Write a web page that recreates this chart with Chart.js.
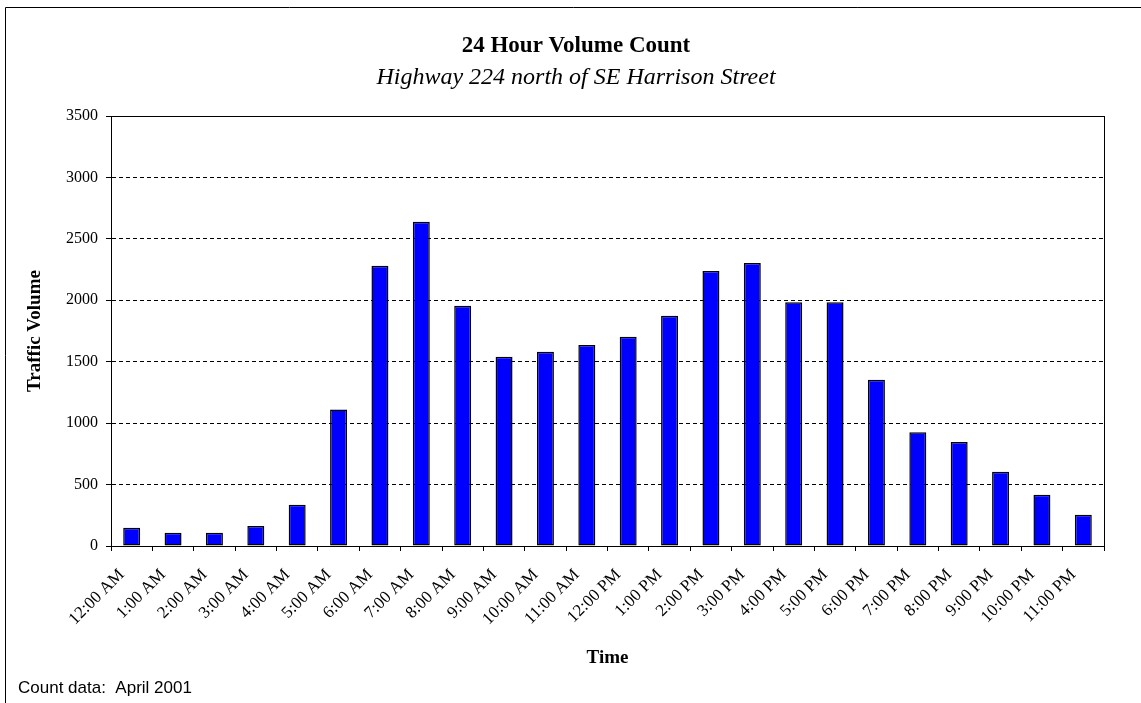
<!DOCTYPE html>
<html lang="en">
<head>
  <meta charset="UTF-8">
  <title>24 Hour Volume Count</title>
  <style>
    html, body {
      margin: 0;
      padding: 0;
      background: #fff;
    }
    #wrap {
      width: 1141px;
      height: 703px;
    }
  </style>
</head>
<body>
  <div id="wrap">
    <canvas id="chartCanvas" width="1141" height="703"></canvas>
  </div>

  <script src="https://cdn.jsdelivr.net/npm/chart.js"></script>
  <script>
    // Data
    const hours = ['12:00 AM', '1:00 AM', '2:00 AM', '3:00 AM', '4:00 AM', '5:00 AM',
      '6:00 AM', '7:00 AM', '8:00 AM', '9:00 AM', '10:00 AM', '11:00 AM',
      '12:00 PM', '1:00 PM', '2:00 PM', '3:00 PM', '4:00 PM', '5:00 PM',
      '6:00 PM', '7:00 PM', '8:00 PM', '9:00 PM', '10:00 PM', '11:00 PM'];
    const volumes = [149, 108, 108, 163, 336, 1112, 2282, 2640, 1956, 1541, 1582, 1636,
      1704, 1875, 2238, 2303, 1983, 1983, 1354, 925, 846, 605, 418, 255];
    const yTicks = [0, 500, 1000, 1500, 2000, 2500, 3000, 3500];

    const serif = "'Liberation Serif', 'Times New Roman', serif";
    const sans = "'Liberation Sans', Arial, sans-serif";

    // outer frame, plot frame and the footnote
    const decorations = {
      id: 'decorations',
      afterDraw(chart) {
        const ctx = chart.ctx;
        const a = chart.chartArea;
        ctx.save();
        ctx.strokeStyle = '#000';
        ctx.lineWidth = 1;
        ctx.setLineDash([]);
        // plot frame
        ctx.strokeRect(Math.round(a.left) + 0.5, Math.round(a.top) + 0.5,
          Math.round(a.right - a.left), Math.round(a.bottom - a.top));
        // outer chart border (runs off the right and bottom)
        ctx.beginPath();
        ctx.moveTo(5.5, 720);
        ctx.lineTo(5.5, 7.5);
        ctx.lineTo(1160, 7.5);
        ctx.stroke();
        // footnote
        ctx.fillStyle = '#000';
        ctx.font = '17px ' + sans;
        ctx.textAlign = 'left';
        ctx.textBaseline = 'alphabetic';
        ctx.fillText('Count data:  April 2001', 18, 693);
        ctx.restore();
      }
    };

    const ctx = document.getElementById('chartCanvas').getContext('2d');
    new Chart(ctx, {
      type: 'bar',
      data: {
        labels: hours,
        datasets: [{
          label: 'Traffic Volume',
          data: volumes,
          backgroundColor: '#0000ff',
          borderColor: '#000000',
          borderWidth: 1.5,
          borderSkipped: false,
          categoryPercentage: 1.0,
          barPercentage: 0.41
        }]
      },
      options: {
        responsive: false,
        animation: false,
        layout: {
          padding: { left: 48, right: 37, top: 32, bottom: 0 }
        },
        plugins: {
          legend: { display: false },
          tooltip: { enabled: false },
          title: {
            display: true,
            text: '24 Hour Volume Count',
            color: '#000',
            font: { family: serif, size: 23, weight: 'bold', lineHeight: 1.2 },
            padding: { top: 0, bottom: 0 }
          },
          subtitle: {
            display: true,
            text: 'Highway 224 north of SE Harrison Street',
            color: '#000',
            font: { family: serif, size: 24, style: 'italic', lineHeight: 1.2 },
            padding: { top: 4, bottom: 23.6 }
          }
        },
        scales: {
          x: {
            afterFit(scale) { scale.height = 157; },
            grid: {
              offset: true,
              drawOnChartArea: false,
              drawTicks: true,
              tickLength: 5,
              color: '#000'
            },
            border: { display: true, color: '#000', width: 1 },
            ticks: {
              autoSkip: false,
              minRotation: 45,
              maxRotation: 45,
              labelOffset: -10,
              padding: 14,
              color: '#000',
              font: { family: serif, size: 17 }
            },
            title: {
              display: true,
              text: 'Time',
              color: '#000',
              font: { family: serif, size: 19, weight: 'bold', lineHeight: 1.2 },
              padding: { top: 0, bottom: 34 }
            }
          },
          y: {
            min: 0,
            max: 3500,
            afterFit(scale) { scale.width = 63; },
            afterBuildTicks(scale) {
              scale.ticks = yTicks.map(v => ({ value: v }));
            },
            grid: {
              color: '#000',
              lineWidth: 1,
              drawTicks: true,
              tickLength: 5,
              tickColor: '#000'
            },
            border: { display: true, color: '#000', width: 1, dash: [4, 3] },
            ticks: {
              padding: 8,
              color: '#000',
              font: { family: serif, size: 16 },
              callback: v => String(v)
            },
            title: {
              display: true,
              text: 'Traffic Volume',
              color: '#000',
              font: { family: serif, size: 19, weight: 'bold', lineHeight: 1.2 },
              padding: { top: -24, bottom: 0 }
            }
          }
        }
      },
      plugins: [decorations]
    });
  </script>
</body>
</html>
